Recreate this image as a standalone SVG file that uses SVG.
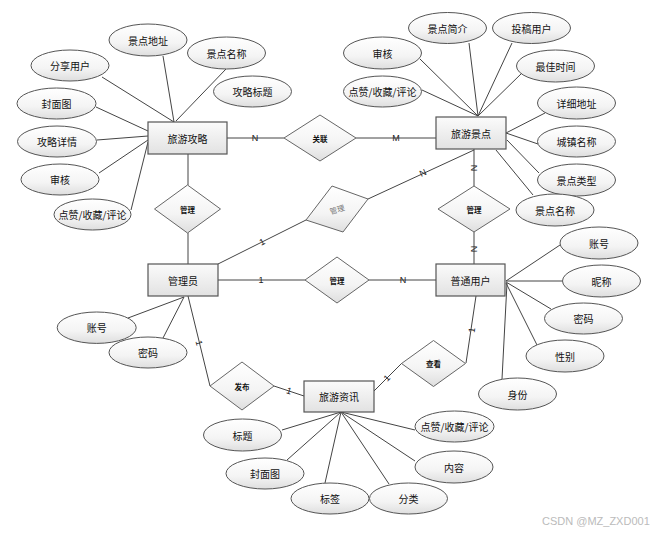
<svg xmlns="http://www.w3.org/2000/svg" width="662" height="536" viewBox="0 0 662 536">
<defs>
<linearGradient id="gE" x1="0" y1="0" x2="0" y2="1">
<stop offset="0" stop-color="#ffffff"/><stop offset="0.6" stop-color="#f4f4f4"/><stop offset="1" stop-color="#dedede"/>
</linearGradient>
<linearGradient id="gR" x1="0" y1="0" x2="0" y2="1">
<stop offset="0" stop-color="#fbfbfb"/><stop offset="1" stop-color="#e2e2e2"/>
</linearGradient>
</defs>
<style>
.e{fill:url(#gE);stroke:#555;stroke-width:1}
.r{fill:url(#gR);stroke:#555;stroke-width:1.2}
.d{fill:url(#gE);stroke:#666;stroke-width:1}
.t{font-family:"Noto Sans CJK SC","Noto Sans",sans-serif;font-size:10px;fill:#111;text-anchor:middle;dominant-baseline:central}
.s{font-family:"Noto Sans CJK SC","Noto Sans",sans-serif;font-size:7.5px;font-weight:bold;fill:#111;text-anchor:middle;dominant-baseline:central}
.l{font-family:"Liberation Sans",Arial,sans-serif;font-size:9px;fill:#222;text-anchor:middle;dominant-baseline:central}
#conn line{stroke:#444;stroke-width:1}
.w{font-family:"Liberation Sans",Arial,sans-serif;font-size:11px;fill:#bbb}
</style>
<g id="conn">
<line x1="102" y1="77" x2="174" y2="122"/>
<line x1="163" y1="56" x2="174" y2="122"/>
<line x1="226" y1="69" x2="176" y2="121"/>
<line x1="96" y1="107" x2="148" y2="131"/>
<line x1="97" y1="140" x2="148" y2="136"/>
<line x1="99" y1="173" x2="148" y2="140"/>
<line x1="131" y1="210" x2="148" y2="142"/>
<line x1="420" y1="59" x2="478" y2="116"/>
<line x1="422" y1="90" x2="478" y2="116"/>
<line x1="469" y1="43" x2="478" y2="116"/>
<line x1="512" y1="43" x2="478" y2="116"/>
<line x1="522" y1="73" x2="478" y2="116"/>
<line x1="545" y1="113" x2="506" y2="133"/>
<line x1="538" y1="144" x2="506" y2="133"/>
<line x1="539" y1="173" x2="507" y2="140"/>
<line x1="533" y1="195" x2="496" y2="150"/>
<line x1="560" y1="245" x2="506" y2="281"/>
<line x1="562" y1="281" x2="506" y2="281"/>
<line x1="551" y1="309" x2="506" y2="282"/>
<line x1="537" y1="345" x2="506" y2="283"/>
<line x1="502" y1="379" x2="507" y2="283"/>
<line x1="128" y1="318" x2="184" y2="297"/>
<line x1="163" y1="338" x2="184" y2="297"/>
<line x1="282" y1="430" x2="341" y2="412"/>
<line x1="287" y1="460" x2="341" y2="412"/>
<line x1="325" y1="483" x2="341" y2="412"/>
<line x1="389" y1="484" x2="341" y2="412"/>
<line x1="415" y1="461" x2="341" y2="412"/>
<line x1="415" y1="430" x2="341" y2="412"/>
<line x1="227" y1="138" x2="284" y2="138"/>
<line x1="356" y1="138" x2="436" y2="138"/>
<line x1="188" y1="154" x2="188" y2="185"/>
<line x1="188" y1="233" x2="188" y2="264"/>
<line x1="218" y1="280" x2="305" y2="280"/>
<line x1="369" y1="280" x2="436" y2="280"/>
<line x1="474" y1="149" x2="474" y2="186"/>
<line x1="474" y1="232" x2="474" y2="264"/>
<line x1="218" y1="264" x2="306" y2="220"/>
<line x1="368" y1="199" x2="474" y2="150"/>
<line x1="188" y1="296" x2="210" y2="386"/>
<line x1="274" y1="386" x2="304" y2="396"/>
<line x1="374" y1="391" x2="402" y2="363"/>
<line x1="466" y1="363" x2="476" y2="296"/>
<text class="l" x="255" y="138">N</text>
<text class="l" x="396" y="138">M</text>
<text class="l" x="261" y="280">1</text>
<text class="l" x="403" y="280">N</text>
<text class="l" transform="translate(474,168) rotate(90)">N</text>
<text class="l" transform="translate(474,249) rotate(-90)">N</text>
<text class="l" transform="translate(262,242) rotate(-27)">1</text>
<text class="l" transform="translate(423,173) rotate(-25)">N</text>
<text class="l" transform="translate(199,343) rotate(76)">1</text>
<text class="l" transform="translate(289,391) rotate(18)">1</text>
<text class="l" transform="translate(387,378) rotate(-45)">1</text>
<text class="l" transform="translate(472,330) rotate(-82)">1</text>
</g>
<g id="e-gonglue"><rect class="r" x="148" y="122" width="79" height="32"/><text class="t" x="187.5" y="138">旅游攻略</text></g>
<g id="e-jingdian"><rect class="r" x="436" y="117" width="70" height="32"/><text class="t" x="471" y="133">旅游景点</text></g>
<g id="e-admin"><rect class="r" x="148" y="264" width="70" height="32"/><text class="t" x="183" y="280">管理员</text></g>
<g id="e-user"><rect class="r" x="436" y="264" width="69" height="32"/><text class="t" x="470.5" y="280">普通用户</text></g>
<g id="e-zixun"><rect class="r" x="304" y="381" width="70" height="31"/><text class="t" x="339" y="396.5">旅游资讯</text></g>
<g id="r-guanlian"><polygon class="d" points="320,115 356,138 320,161 284,138"/><text class="s" x="320" y="138">关联</text></g>
<g id="r-guanli1"><polygon class="d" points="187.5,185 220.5,209 187.5,233 154.5,209"/><text class="s" x="187.5" y="209">管理</text></g>
<g id="r-guanli2"><polygon class="d" points="474,186 510,209 474,232 438,209"/><text class="s" x="474" y="209">管理</text></g>
<g id="r-guanli3"><polygon class="d" points="337,257 369,280 337,303 305,280"/><text class="s" x="337" y="280">管理</text></g>
<g id="r-guanli4"><polygon class="d" points="332,186 368,199 343,232 306,220"/><text class="s" style="fill:#777;font-weight:normal" transform="translate(337,209) rotate(-17)">管理</text></g>
<g id="r-fabu"><polygon class="d" points="242,362 274,386 242,410 210,386"/><text class="s" x="242" y="386">发布</text></g>
<g id="r-chakan"><polygon class="d" points="433.5,340.5 465.5,363.5 433.5,386.5 401.5,363.5"/><text class="s" x="433.5" y="363.5">查看</text></g>
<g id="a-g1"><ellipse class="e" cx="148" cy="40" rx="39" ry="16"/><text class="t" x="148" y="40">景点地址</text></g>
<g id="a-g2"><ellipse class="e" cx="226.5" cy="53" rx="39" ry="16"/><text class="t" x="226.5" y="53">景点名称</text></g>
<g id="a-g3"><ellipse class="e" cx="70" cy="65.5" rx="39" ry="15.5"/><text class="t" x="70" y="65.5">分享用户</text></g>
<g id="a-g4"><ellipse class="e" cx="252.5" cy="91.5" rx="39" ry="15.5"/><text class="t" x="252.5" y="91.5">攻略标题</text></g>
<g id="a-g5"><ellipse class="e" cx="56.5" cy="103.5" rx="39.5" ry="15.5"/><text class="t" x="56.5" y="103.5">封面图</text></g>
<g id="a-g6"><ellipse class="e" cx="57" cy="141.5" rx="39.5" ry="15.5"/><text class="t" x="57" y="141.5">攻略详情</text></g>
<g id="a-g7"><ellipse class="e" cx="60" cy="179.5" rx="39" ry="15.5"/><text class="t" x="60" y="179.5">审核</text></g>
<g id="a-g8"><ellipse class="e" cx="92.5" cy="214.5" rx="38.5" ry="15.5"/><text class="t" x="92.5" y="214.5">点赞/收藏/评论</text></g>
<g id="a-j1"><ellipse class="e" cx="447.5" cy="28" rx="39" ry="15.5"/><text class="t" x="447.5" y="28">景点简介</text></g>
<g id="a-j2"><ellipse class="e" cx="531.5" cy="28" rx="39" ry="15.5"/><text class="t" x="531.5" y="28">投稿用户</text></g>
<g id="a-j3"><ellipse class="e" cx="382.5" cy="53" rx="39" ry="16"/><text class="t" x="382.5" y="53">审核</text></g>
<g id="a-j4"><ellipse class="e" cx="555.5" cy="66" rx="39" ry="16"/><text class="t" x="555.5" y="66">最佳时间</text></g>
<g id="a-j5"><ellipse class="e" cx="382.5" cy="91.5" rx="39" ry="15.5"/><text class="t" x="382.5" y="91.5">点赞/收藏/评论</text></g>
<g id="a-j6"><ellipse class="e" cx="576.5" cy="103" rx="39" ry="16"/><text class="t" x="576.5" y="103">详细地址</text></g>
<g id="a-j7"><ellipse class="e" cx="576.5" cy="141.5" rx="39" ry="15.5"/><text class="t" x="576.5" y="141.5">城镇名称</text></g>
<g id="a-j8"><ellipse class="e" cx="576.5" cy="180" rx="39" ry="16"/><text class="t" x="576.5" y="180">景点类型</text></g>
<g id="a-j9"><ellipse class="e" cx="555" cy="210" rx="39" ry="16"/><text class="t" x="555" y="210">景点名称</text></g>
<g id="a-u1"><ellipse class="e" cx="599" cy="243" rx="39" ry="16"/><text class="t" x="599" y="243">账号</text></g>
<g id="a-u2"><ellipse class="e" cx="601.5" cy="281" rx="39" ry="16"/><text class="t" x="601.5" y="281">昵称</text></g>
<g id="a-u3"><ellipse class="e" cx="583.5" cy="318.5" rx="39" ry="15.5"/><text class="t" x="583.5" y="318.5">密码</text></g>
<g id="a-u4"><ellipse class="e" cx="565" cy="356" rx="39" ry="16"/><text class="t" x="565" y="356">性别</text></g>
<g id="a-u5"><ellipse class="e" cx="517.5" cy="394" rx="39" ry="16"/><text class="t" x="517.5" y="394">身份</text></g>
<g id="a-a1"><ellipse class="e" cx="96.7" cy="327.7" rx="39.5" ry="15.7"/><text class="t" x="96.7" y="327.7">账号</text></g>
<g id="a-a2"><ellipse class="e" cx="148" cy="352.5" rx="39" ry="15.5"/><text class="t" x="148" y="352.5">密码</text></g>
<g id="a-z1"><ellipse class="e" cx="242.5" cy="435" rx="39" ry="16"/><text class="t" x="242.5" y="435">标题</text></g>
<g id="a-z2"><ellipse class="e" cx="265" cy="473.5" rx="39" ry="15.5"/><text class="t" x="265" y="473.5">封面图</text></g>
<g id="a-z3"><ellipse class="e" cx="330" cy="498.5" rx="39" ry="15.5"/><text class="t" x="330" y="498.5">标签</text></g>
<g id="a-z4"><ellipse class="e" cx="408.5" cy="498.5" rx="39" ry="15.5"/><text class="t" x="408.5" y="498.5">分类</text></g>
<g id="a-z5"><ellipse class="e" cx="454" cy="467" rx="39" ry="16"/><text class="t" x="454" y="467">内容</text></g>
<g id="a-z6"><ellipse class="e" cx="454.5" cy="426.5" rx="39.5" ry="15.5"/><text class="t" x="454.5" y="426.5">点赞/收藏/评论</text></g>
<text class="w" x="542" y="525">CSDN @MZ_ZXD001</text>
</svg>
